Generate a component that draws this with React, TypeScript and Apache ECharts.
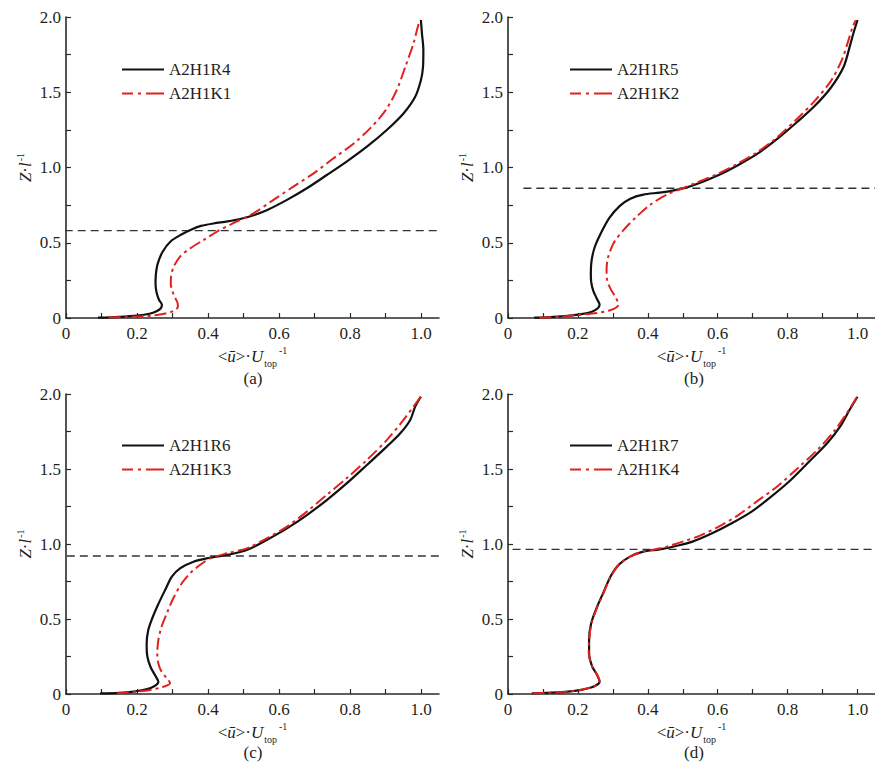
import React, { useEffect, useRef } from "react";
import * as echarts from "echarts";

// ---- data ----
const xTickLabels = [0, 0.2, 0.4, 0.6, 0.8, 1.0];
const xTicks = [0, 0.1, 0.2, 0.3, 0.4, 0.5, 0.6, 0.7, 0.8, 0.9, 1.0];
const yTicks = [0, 0.25, 0.5, 0.75, 1.0, 1.25, 1.5, 1.75, 2.0];

const panelLabels = ["(a)", "(b)", "(c)", "(d)"];
const blackNames = ["A2H1R4", "A2H1R5", "A2H1R6", "A2H1R7"];
const redNames = ["A2H1K1", "A2H1K2", "A2H1K3", "A2H1K4"];

// reference (dashed) heights and their drawn x-extent
const dashHeights = [0.58, 0.862, 0.92, 0.964];
const dashStartX = [-0.15, 0.044, -0.144, 0.013];
const dashEndX = [1.05, 1.05, 1.05, 1.05];

const aBlack = [[0.09,0.002],[0.15,0.008],[0.2,0.016],[0.235,0.028],[0.255,0.045],[0.267,0.065],[0.27,0.088],[0.262,0.12],[0.255,0.17],[0.252,0.23],[0.253,0.29],[0.258,0.36],[0.272,0.44],[0.295,0.51],[0.325,0.555],[0.355,0.59],[0.38,0.612],[0.415,0.628],[0.455,0.642],[0.49,0.658],[0.528,0.683],[0.565,0.716],[0.622,0.785],[0.678,0.862],[0.734,0.95],[0.79,1.039],[0.847,1.138],[0.903,1.249],[0.95,1.359],[0.983,1.47],[0.999,1.58],[1.005,1.668],[1.006,1.78],[1.002,1.89],[0.999,1.98]];
const aRed = [[0.12,0.003],[0.17,0.006],[0.21,0.011],[0.25,0.018],[0.28,0.03],[0.302,0.046],[0.315,0.075],[0.314,0.1],[0.306,0.14],[0.298,0.19],[0.295,0.23],[0.296,0.28],[0.303,0.34],[0.32,0.405],[0.349,0.462],[0.387,0.518],[0.424,0.573],[0.471,0.63],[0.528,0.696],[0.584,0.785],[0.64,0.873],[0.697,0.961],[0.753,1.061],[0.81,1.16],[0.856,1.26],[0.9,1.381],[0.931,1.514],[0.955,1.668],[0.978,1.823],[0.993,1.956],[0.999,1.98]];

const bBlack = [[0.075,0.002],[0.13,0.008],[0.171,0.015],[0.21,0.026],[0.24,0.042],[0.257,0.065],[0.262,0.088],[0.255,0.125],[0.244,0.18],[0.238,0.24],[0.237,0.3],[0.239,0.38],[0.248,0.47],[0.265,0.56],[0.29,0.665],[0.32,0.745],[0.35,0.793],[0.387,0.82],[0.434,0.833],[0.471,0.846],[0.509,0.866],[0.546,0.895],[0.603,0.95],[0.659,1.017],[0.715,1.094],[0.772,1.193],[0.828,1.304],[0.875,1.403],[0.922,1.525],[0.96,1.668],[0.98,1.823],[0.988,1.89],[1.0,1.98]];
const bRed = [[0.09,0.001],[0.15,0.008],[0.2,0.02],[0.255,0.033],[0.29,0.05],[0.31,0.07],[0.316,0.09],[0.307,0.14],[0.292,0.2],[0.283,0.26],[0.282,0.32],[0.286,0.4],[0.302,0.497],[0.331,0.586],[0.368,0.674],[0.406,0.751],[0.453,0.818],[0.5,0.862],[0.546,0.906],[0.603,0.961],[0.659,1.028],[0.715,1.105],[0.772,1.204],[0.828,1.326],[0.875,1.436],[0.922,1.569],[0.955,1.713],[0.974,1.845],[0.986,1.934],[0.995,1.978]];

const cBlack = [[0.096,0.004],[0.15,0.008],[0.19,0.016],[0.22,0.028],[0.24,0.042],[0.255,0.062],[0.26,0.08],[0.252,0.12],[0.238,0.18],[0.229,0.25],[0.227,0.33],[0.231,0.42],[0.242,0.5],[0.258,0.59],[0.279,0.693],[0.298,0.782],[0.321,0.838],[0.359,0.882],[0.396,0.904],[0.453,0.927],[0.509,0.96],[0.565,1.027],[0.622,1.104],[0.678,1.193],[0.734,1.293],[0.79,1.404],[0.847,1.527],[0.903,1.649],[0.941,1.738],[0.969,1.827],[0.983,1.916],[0.999,1.982]];
const cRed = [[0.143,0.004],[0.2,0.016],[0.237,0.027],[0.265,0.042],[0.285,0.058],[0.293,0.072],[0.284,0.104],[0.269,0.149],[0.26,0.204],[0.257,0.271],[0.26,0.36],[0.269,0.449],[0.284,0.538],[0.302,0.638],[0.326,0.738],[0.349,0.804],[0.377,0.86],[0.406,0.904],[0.453,0.938],[0.509,0.971],[0.565,1.038],[0.622,1.116],[0.678,1.216],[0.734,1.327],[0.79,1.438],[0.847,1.56],[0.903,1.693],[0.95,1.827],[0.978,1.916],[0.999,1.982]];

const dBlack = [[0.068,0.004],[0.12,0.009],[0.171,0.016],[0.21,0.028],[0.24,0.045],[0.257,0.065],[0.262,0.082],[0.255,0.127],[0.241,0.182],[0.232,0.271],[0.232,0.36],[0.238,0.471],[0.255,0.582],[0.274,0.682],[0.293,0.782],[0.316,0.86],[0.349,0.916],[0.387,0.949],[0.434,0.964],[0.481,0.987],[0.528,1.016],[0.584,1.071],[0.64,1.138],[0.697,1.216],[0.753,1.316],[0.809,1.427],[0.866,1.56],[0.913,1.671],[0.95,1.782],[0.977,1.893],[1.0,1.982]];
const dRed = [[0.07,0.003],[0.12,0.009],[0.171,0.016],[0.21,0.028],[0.24,0.045],[0.257,0.065],[0.262,0.082],[0.255,0.127],[0.241,0.182],[0.231,0.271],[0.232,0.36],[0.239,0.471],[0.256,0.582],[0.275,0.682],[0.294,0.782],[0.317,0.86],[0.35,0.916],[0.388,0.949],[0.425,0.966],[0.453,0.982],[0.5,1.016],[0.546,1.053],[0.603,1.116],[0.659,1.193],[0.715,1.289],[0.772,1.387],[0.828,1.504],[0.885,1.627],[0.932,1.749],[0.969,1.871],[0.993,1.96],[0.998,1.978]];

const blackData = [aBlack, bBlack, cBlack, dBlack];
const redData = [aRed, bRed, cRed, dRed];

// ---- layout / style ----
const FONT = "Liberation Serif";
const TEXT = "#231f20";
const AXIS = "#2a2a2a";
const RED = "#e3211c";
const BLACK = "#111111";
const grids = [
  { left: 66, top: 17, width: 373, height: 301 },
  { left: 508, top: 17, width: 373, height: 301 },
  { left: 66, top: 394, width: 373, height: 300 },
  { left: 508, top: 394, width: 373, height: 300 },
];
const legendPos = [
  { left: 122, top: 61 },
  { left: 570, top: 61 },
  { left: 122, top: 437 },
  { left: 570, top: 437 },
];
const panelLabelPos = [
  [253, 378],
  [694, 378],
  [253, 752],
  [694, 752],
];
const ICON_SOLID = "path://M0,0h42v2.2h-42z";
const ICON_DASHDOT = "path://M0,0h11v2h-11z M16,0h3v2h-3z M24,0h18v2h-18z";

const fmt = (v: number) => (Math.abs(v) < 1e-9 ? "0" : v.toFixed(1));

const xNameRich = {
  a: { fontSize: 17, fontFamily: FONT, color: TEXT, lineHeight: 28, verticalAlign: "middle" },
  u: { fontSize: 17, fontFamily: FONT, fontStyle: "italic", color: TEXT, lineHeight: 28, verticalAlign: "middle" },
  s: { fontSize: 10, fontFamily: FONT, color: TEXT, lineHeight: 28, verticalAlign: "bottom", padding: [0, 0, 2, 1] },
  p: { fontSize: 10, fontFamily: FONT, color: TEXT, lineHeight: 28, verticalAlign: "top", padding: [3, 0, 0, 2] },
};
const yNameRich = {
  a: { fontSize: 17, fontFamily: FONT, color: TEXT, lineHeight: 24, verticalAlign: "middle" },
  u: { fontSize: 17, fontFamily: FONT, fontStyle: "italic", color: TEXT, lineHeight: 24, verticalAlign: "middle" },
  p: { fontSize: 10, fontFamily: FONT, color: TEXT, lineHeight: 24, verticalAlign: "top", padding: [2, 0, 0, 1] },
};

export default function App() {
  const ref = useRef<HTMLDivElement>(null);
  useEffect(() => {
    if (!ref.current) return;
    const chart = echarts.init(ref.current, null, { renderer: "svg" });

    const xAxes: any[] = [];
    const yAxes: any[] = [];
    const series: any[] = [];
    const legends: any[] = [];

    for (let i = 0; i < 4; i++) {
      xAxes.push({
        type: "value",
        gridIndex: i,
        min: 0,
        max: 1.05,
        name: "{a|<}{u|ū}{a|>·}{u|U}{s|top}{p|-1}",
        nameLocation: "middle",
        nameGap: 22,
        nameTextStyle: { fontFamily: FONT, rich: xNameRich },
        axisLine: { show: true, onZero: false, lineStyle: { color: AXIS, width: 1.6 } },
        axisTick: { show: true, inside: true, length: 5, customValues: xTicks, lineStyle: { color: AXIS, width: 1.2 } },
        axisLabel: {
          customValues: xTickLabels,
          formatter: fmt,
          margin: 7,
          fontSize: 17,
          fontFamily: FONT,
          color: TEXT,
        },
        splitLine: { show: false },
      });
      yAxes.push({
        type: "value",
        gridIndex: i,
        min: 0,
        max: 2,
        interval: 0.5,
        name: "{u|Z}{a|·}{u|l}{p|-1}",
        nameLocation: "middle",
        nameRotate: 90,
        nameGap: 29,
        nameTextStyle: { fontFamily: FONT, rich: yNameRich },
        axisLine: { show: true, onZero: false, lineStyle: { color: AXIS, width: 1.6 } },
        axisTick: { show: true, inside: true, length: 5, customValues: yTicks, lineStyle: { color: AXIS, width: 1.2 } },
        axisLabel: { formatter: fmt, margin: 5, fontSize: 17, fontFamily: FONT, color: TEXT },
        splitLine: { show: false },
      });
      series.push({
        type: "line",
        name: blackNames[i],
        xAxisIndex: i,
        yAxisIndex: i,
        data: blackData[i],
        showSymbol: false,
        symbol: "none",
        smooth: 0.3,
        lineStyle: { color: BLACK, width: 2.2, type: "solid" },
        itemStyle: { color: BLACK },
        z: 3,
      });
      series.push({
        type: "line",
        name: redNames[i],
        xAxisIndex: i,
        yAxisIndex: i,
        data: redData[i],
        showSymbol: false,
        symbol: "none",
        smooth: 0.3,
        lineStyle: { color: RED, width: 2, type: [12, 4, 3, 4] },
        itemStyle: { color: RED },
        z: 4,
      });
      series.push({
        type: "line",
        name: "ref" + i,
        xAxisIndex: i,
        yAxisIndex: i,
        data: [
          [dashStartX[i], dashHeights[i]],
          [dashEndX[i], dashHeights[i]],
        ],
        showSymbol: false,
        symbol: "none",
        clip: false,
        lineStyle: { color: "#333", width: 1.3, type: [8, 5] },
        z: 2,
      });
      legends.push({
        show: true,
        orient: "vertical",
        left: legendPos[i].left,
        top: legendPos[i].top,
        data: [
          { name: blackNames[i], icon: ICON_SOLID },
          { name: redNames[i], icon: ICON_DASHDOT },
        ],
        itemWidth: 42,
        itemHeight: 14,
        itemGap: 7,
        padding: 0,
        selectedMode: false,
        textStyle: { fontSize: 17, fontFamily: FONT, color: TEXT },
      });
    }

    const graphics = panelLabels.map((t, i) => ({
      type: "text",
      x: panelLabelPos[i][0],
      y: panelLabelPos[i][1],
      style: {
        text: t,
        fontSize: 17,
        fontFamily: FONT,
        fill: TEXT,
        align: "center",
        verticalAlign: "middle",
      },
    }));

    chart.setOption({
      animation: false,
      backgroundColor: "#ffffff",
      textStyle: { fontFamily: FONT },
      grid: grids.map((g) => ({ ...g, containLabel: false })),
      xAxis: xAxes,
      yAxis: yAxes,
      legend: legends,
      series,
      graphic: graphics,
    });
    return () => chart.dispose();
  }, []);
  return (
    <div
      ref={ref}
      style={{ position: "absolute", left: 0, top: 0, width: 875, height: 767 }}
    />
  );
}
